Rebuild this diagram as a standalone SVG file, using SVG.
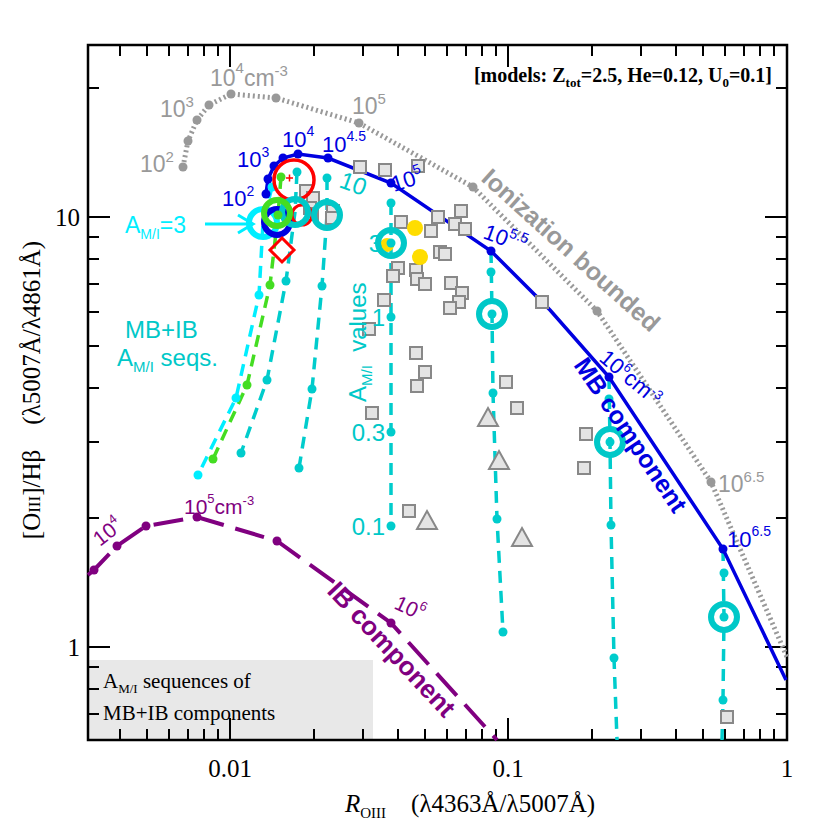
<svg xmlns="http://www.w3.org/2000/svg" width="830" height="830" viewBox="0 0 830 830">
<style>
text{font-family:"Liberation Sans",Arial,sans-serif}
.ser,.ser text{font-family:"Liberation Serif","Times New Roman",serif}
.tk{stroke:#000;stroke-width:2}
.cy{fill:none;stroke:#00cccc;stroke-width:3.5;stroke-dasharray:12 8}
.cyd{fill:#00cccc}
.ring{fill:none;stroke:#00c8c8;stroke-width:6}
.sq{fill:#e4e4e4;stroke:#888;stroke-width:2}
.tri{fill:#e4e4e4;stroke:#888;stroke-width:2}
.gl{fill:#999;font-size:23px}
.bl{fill:#0000e0;font-size:22px}
.pl{fill:#800080;font-size:21px}
.cl{fill:#00c8c8;font-size:24px}
</style>
<rect width="830" height="830" fill="#fff"/>
<rect x="88" y="660" width="285" height="80" fill="#e8e8e8"/>
<g id="box-text" class="ser" font-size="21">
<text x="103" y="688">A<tspan font-size="13" dy="5">M/I</tspan><tspan dy="-5">&#160;sequences of</tspan></text>
<text x="103" y="720">MB+IB components</text>
</g>
<g id="axes">
<rect x="88" y="45" width="699" height="695" fill="none" stroke="#000" stroke-width="2.5"/>
<path class="tk" d="M230 740v-22M508 740v-22M230 45v22M508 45v22M88 217h22M88 647h22M787 217h-22M787 647h-22"/>
<path class="tk" d="M120 740v-11M147 740v-11M169 740v-11M188 740v-11M204 740v-11M218 740v-11M314 740v-11M363 740v-11M398 740v-11M425 740v-11M447 740v-11M466 740v-11M482 740v-11M496 740v-11M592 740v-11M641 740v-11M676 740v-11M703 740v-11M725 740v-11M744 740v-11M760 740v-11M774 740v-11
M120 45v11M147 45v11M169 45v11M188 45v11M204 45v11M218 45v11M314 45v11M363 45v11M398 45v11M425 45v11M447 45v11M466 45v11M482 45v11M496 45v11M592 45v11M641 45v11M676 45v11M703 45v11M725 45v11M744 45v11M760 45v11M774 45v11
M88 88h11M88 237h11M88 259h11M88 284h11M88 312h11M88 346h11M88 388h11M88 442h11M88 518h11M88 667h11M88 689h11M88 714h11
M787 88h-11M787 237h-11M787 259h-11M787 284h-11M787 312h-11M787 346h-11M787 388h-11M787 442h-11M787 518h-11M787 667h-11M787 689h-11M787 714h-11"/>
<g class="ser" font-size="25">
<text x="230" y="777" text-anchor="middle">0.01</text>
<text x="508" y="777" text-anchor="middle">0.1</text>
<text x="787" y="777" text-anchor="middle">1</text>
<text x="80" y="226" text-anchor="end">10</text>
<text x="80" y="656" text-anchor="end">1</text>
<text x="470" y="812" text-anchor="middle"><tspan font-style="italic">R</tspan><tspan font-size="15" dy="6">OIII</tspan><tspan dy="-6">&#160;&#160;&#160;&#160;(λ4363Å/λ5007Å)</tspan></text>
<text transform="translate(40,390) rotate(-90)" text-anchor="middle">[O<tspan font-size="17">III</tspan>]/Hβ&#160;&#160;&#160;&#160;(λ5007Å/λ4861Å)</text>
</g>
<text class="ser" x="772" y="82" text-anchor="end" font-size="20" font-weight="bold">[models: Z<tspan font-size="13" dy="5">tot</tspan><tspan dy="-5">=2.5, He=0.12, U</tspan><tspan font-size="13" dy="5">0</tspan><tspan dy="-5">=0.1]</tspan></text>
</g>
<g id="connectors">
<path id="ion" d="M183 167L188 141L197 120L209 105L231 94L276 98L359 123L473 187L597 311L711 482L787 657" fill="none" stroke="#999" stroke-width="5" stroke-dasharray="2 3"/>
<path id="ib" d="M88 575L94 570L117 546L146 526L197 517L277 541L391 623L497 740" fill="none" stroke="#800080" stroke-width="4" stroke-dasharray="30 12"/>
<path class="cy" d="M391 203L391 526"/>
<path class="cy" d="M491 251L492 314L493 393L497 519L503 632"/>
<path class="cy" d="M609 377L610 442L611 525L614 658L617 740"/>
<path class="cy" d="M723 549L724 617L723 700L722 740"/>
<path class="cy" d="M297 172L295 212L286 281L267 380L241 453"/>
<path class="cy" d="M327 178L327 215L322 286L312 389L299 468"/>
<path d="M272 187L263 223L259 295L236 398L198 475" fill="none" stroke="#00eeff" stroke-width="3.5" stroke-dasharray="12 8"/>
<path d="M281 177L278 215L270 285L247 385L213 459" fill="none" stroke="#44dd22" stroke-width="3.5" stroke-dasharray="12 8"/>
<path id="mb" d="M266 194L268 179L274 166L283 158L298 154L328 158L391 183L491 251L550 310L609 377L723 549L786 680" fill="none" stroke="#0000e0" stroke-width="3.5"/>
<path d="M205 224H252M238 215L253 224L238 233" fill="none" stroke="#00eeff" stroke-width="3"/>
</g>
<g id="ion-dots" fill="#999">
<circle cx="183" cy="167" r="4.5"/><circle cx="188" cy="141" r="4.5"/><circle cx="197" cy="120" r="4.5"/><circle cx="209" cy="105" r="4.5"/><circle cx="231" cy="94" r="4.5"/><circle cx="276" cy="98" r="4.5"/><circle cx="359" cy="123" r="4.5"/><circle cx="473" cy="187" r="4.5"/><circle cx="597" cy="311" r="4.5"/><circle cx="711" cy="482" r="4.5"/>
</g>
<g id="ib-dots" fill="#800080">
<circle cx="94" cy="570" r="4.5"/><circle cx="117" cy="546" r="4.5"/><circle cx="146" cy="526" r="4.5"/><circle cx="197" cy="517" r="4.5"/><circle cx="277" cy="541" r="4.5"/><circle cx="391" cy="623" r="4.5"/>
</g>
<g id="squares" class="sq">
<rect x="300" y="185" width="12" height="12"/><rect x="307" y="192" width="12" height="12"/><rect x="304" y="202" width="12" height="12"/><rect x="306" y="208" width="12" height="12"/><rect x="327" y="205" width="12" height="12"/><rect x="326" y="212" width="12" height="12"/>
<rect x="354" y="161" width="12" height="12"/><rect x="379" y="164" width="12" height="12"/><rect x="412" y="160" width="12" height="12"/><rect x="432" y="211" width="12" height="12"/><rect x="455" y="205" width="12" height="12"/><rect x="449" y="218" width="12" height="12"/><rect x="459" y="223" width="12" height="12"/><rect x="395" y="216" width="12" height="12"/><rect x="425" y="225" width="12" height="12"/><rect x="434" y="246" width="12" height="12"/><rect x="439" y="248" width="12" height="12"/><rect x="392" y="262" width="12" height="12"/><rect x="387" y="270" width="12" height="12"/><rect x="410" y="264" width="12" height="12"/><rect x="411" y="273" width="12" height="12"/><rect x="419" y="278" width="12" height="12"/><rect x="445" y="277" width="12" height="12"/><rect x="456" y="287" width="12" height="12"/><rect x="453" y="296" width="12" height="12"/><rect x="444" y="302" width="12" height="12"/><rect x="378" y="294" width="12" height="12"/><rect x="363" y="323" width="12" height="12"/><rect x="410" y="347" width="12" height="12"/><rect x="419" y="366" width="12" height="12"/><rect x="411" y="380" width="12" height="12"/><rect x="366" y="407" width="12" height="12"/><rect x="500" y="376" width="12" height="12"/><rect x="511" y="402" width="12" height="12"/><rect x="536" y="296" width="12" height="12"/><rect x="580" y="428" width="12" height="12"/><rect x="578" y="462" width="12" height="12"/><rect x="403" y="505" width="12" height="12"/><rect x="721" y="711" width="12" height="12"/>
</g>
<g id="triangles" class="tri">
<path d="M488 408L498 426H478Z"/><path d="M499 451L509 469H489Z"/><path d="M427 511L437 529H417Z"/><path d="M522 528L532 546H512Z"/>
</g>
<g id="yellow" fill="#ffdd00">
<circle cx="387" cy="245" r="7"/><circle cx="415" cy="228" r="8"/><circle cx="420" cy="257" r="8"/>
</g>
<g id="cyan-dots" class="cyd">
<circle cx="391" cy="203" r="4.5"/><circle cx="391" cy="243" r="4.5"/><circle cx="391" cy="317" r="4.5"/><circle cx="391" cy="432" r="4.5"/><circle cx="391" cy="526" r="4.5"/>
<circle cx="491" cy="272" r="4.5"/><circle cx="492" cy="314" r="4.5"/><circle cx="493" cy="393" r="4.5"/><circle cx="497" cy="519" r="4.5"/><circle cx="503" cy="632" r="4.5"/>
<circle cx="609" cy="399" r="4.5"/><circle cx="610" cy="442" r="4.5"/><circle cx="611" cy="525" r="4.5"/><circle cx="614" cy="658" r="4.5"/>
<circle cx="724" cy="573" r="4.5"/><circle cx="724" cy="617" r="4.5"/><circle cx="723" cy="700" r="4.5"/>
<circle cx="297" cy="172" r="4.5"/><circle cx="286" cy="281" r="4.5"/><circle cx="267" cy="380" r="4.5"/><circle cx="241" cy="453" r="4.5"/>
<circle cx="327" cy="178" r="4.5"/><circle cx="322" cy="286" r="4.5"/><circle cx="312" cy="389" r="4.5"/><circle cx="299" cy="468" r="4.5"/>
</g>
<g id="lightcyan-dots" fill="#00eeff">
<circle cx="272" cy="187" r="4.5"/><circle cx="259" cy="295" r="4.5"/><circle cx="236" cy="398" r="4.5"/><circle cx="198" cy="475" r="4.5"/>
</g>
<g id="green-dots" fill="#44dd22">
<circle cx="281" cy="177" r="4.5"/><circle cx="270" cy="285" r="4.5"/><circle cx="247" cy="385" r="4.5"/><circle cx="213" cy="459" r="4.5"/>
</g>
<g id="mb-dots" fill="#0000e0">
<circle cx="266" cy="194" r="4.5"/><circle cx="268" cy="179" r="4.5"/><circle cx="274" cy="166" r="4.5"/><circle cx="283" cy="158" r="4.5"/><circle cx="298" cy="154" r="4.5"/><circle cx="328" cy="158" r="4.5"/><circle cx="391" cy="183" r="4.5"/><circle cx="491" cy="251" r="4.5"/><circle cx="609" cy="377" r="4.5"/><circle cx="723" cy="549" r="4.5"/>
</g>
<g id="rings">
<circle cx="263" cy="223" r="14" fill="none" stroke="#00eeff" stroke-width="6"/>
<circle cx="277" cy="222" r="13" fill="none" stroke="#0000e0" stroke-width="6"/>
<circle cx="294" cy="180" r="20" fill="none" stroke="#ff0000" stroke-width="3.5"/>
<circle cx="302" cy="215" r="10" fill="none" stroke="#ff0000" stroke-width="3"/>
<circle cx="295" cy="212" r="13" class="ring"/>
<circle cx="327" cy="215" r="13" class="ring"/>
<circle cx="277" cy="213" r="13" fill="none" stroke="#44dd22" stroke-width="6"/>
<circle cx="278" cy="215" r="4.5" fill="#44dd22"/>
<path d="M282 238L294 250L282 262L270 250Z" fill="none" stroke="#ff0000" stroke-width="3"/>
<path d="M286 178h7M289.5 174.5v7" stroke="#ff0000" stroke-width="1.5"/>
<circle cx="391" cy="243" r="13" class="ring"/>
<circle cx="492" cy="314" r="13" class="ring"/>
<circle cx="610" cy="442" r="13" class="ring"/>
<circle cx="724" cy="617" r="13" class="ring"/>
</g>
<g id="labels">
<text class="gl" x="140" y="172">10<tspan font-size="15" dy="-10">2</tspan></text>
<text class="gl" x="160" y="117">10<tspan font-size="15" dy="-10">3</tspan></text>
<text class="gl" x="210" y="86">10<tspan font-size="15" dy="-13">4</tspan><tspan dy="13">cm</tspan><tspan font-size="15" dy="-10">-3</tspan></text>
<text class="gl" x="352" y="114">10<tspan font-size="15" dy="-10">5</tspan></text>
<text class="gl" x="718" y="492">10<tspan font-size="15" dy="-10">6.5</tspan></text>
<text transform="translate(480,180) rotate(42)" fill="#999" font-size="25" font-weight="bold">Ionization bounded</text>
<text class="bl" x="222" y="206">10<tspan font-size="14" dy="-10">2</tspan></text>
<text class="bl" x="237" y="167">10<tspan font-size="14" dy="-10">3</tspan></text>
<text class="bl" x="282" y="147">10<tspan font-size="14" dy="-11">4</tspan></text>
<text class="bl" x="322" y="152">10<tspan font-size="14" dy="-11">4.5</tspan></text>
<text class="bl" x="394" y="192" transform="rotate(-18 394 192)">10<tspan font-size="14" dy="-10">5</tspan></text>
<text class="bl" x="482" y="238" transform="rotate(20 482 238)">10<tspan font-size="14" dy="-10">5.5</tspan></text>
<text class="bl" x="598" y="360" transform="rotate(40 598 360)" font-size="19">10<tspan font-size="13" dy="-9">6</tspan><tspan dy="9">cm</tspan><tspan font-size="13" dy="-8">-3</tspan></text>
<text class="bl" x="727" y="547">10<tspan font-size="14" dy="-11">6.5</tspan></text>
<text transform="translate(573,365) rotate(56)" fill="#0000e0" font-size="25" font-weight="bold">MB component</text>
<text class="pl" transform="translate(100,547) rotate(-38)">10<tspan font-size="13" dy="-10">4</tspan></text>
<text class="pl" x="184" y="514">10<tspan font-size="13" dy="-11">5</tspan><tspan dy="11">cm</tspan><tspan font-size="13" dy="-9">-3</tspan></text>
<text class="pl" transform="translate(393,608) rotate(25)">10<tspan font-size="13" dy="-10">6</tspan></text>
<text transform="translate(326,592) rotate(47)" fill="#800080" font-size="26" font-weight="bold">IB component</text>
<text class="cl" x="363" y="196" text-anchor="end" transform="rotate(20 363 196)">10</text>
<text class="cl" x="382" y="252" text-anchor="end">3</text>
<text class="cl" x="385" y="326" text-anchor="end">1</text>
<text class="cl" x="385" y="441" text-anchor="end">0.3</text>
<text class="cl" x="385" y="535" text-anchor="end">0.1</text>
<text class="cl" transform="translate(366,402) rotate(-90)">A<tspan font-size="15" dy="6">M/I</tspan><tspan dy="-6">&#160;&#160;values</tspan></text>
<text x="125" y="233" fill="#00eeff" font-size="23">A<tspan font-size="14" dy="6">M/I</tspan><tspan dy="-6">=3</tspan></text>
<text x="125" y="338" fill="#00c8c8" font-size="24">MB+IB</text>
<text x="117" y="366" fill="#00c8c8" font-size="24">A<tspan font-size="15" dy="6">M/I</tspan><tspan dy="-6">&#160;seqs.</tspan></text>
</g>
</svg>
